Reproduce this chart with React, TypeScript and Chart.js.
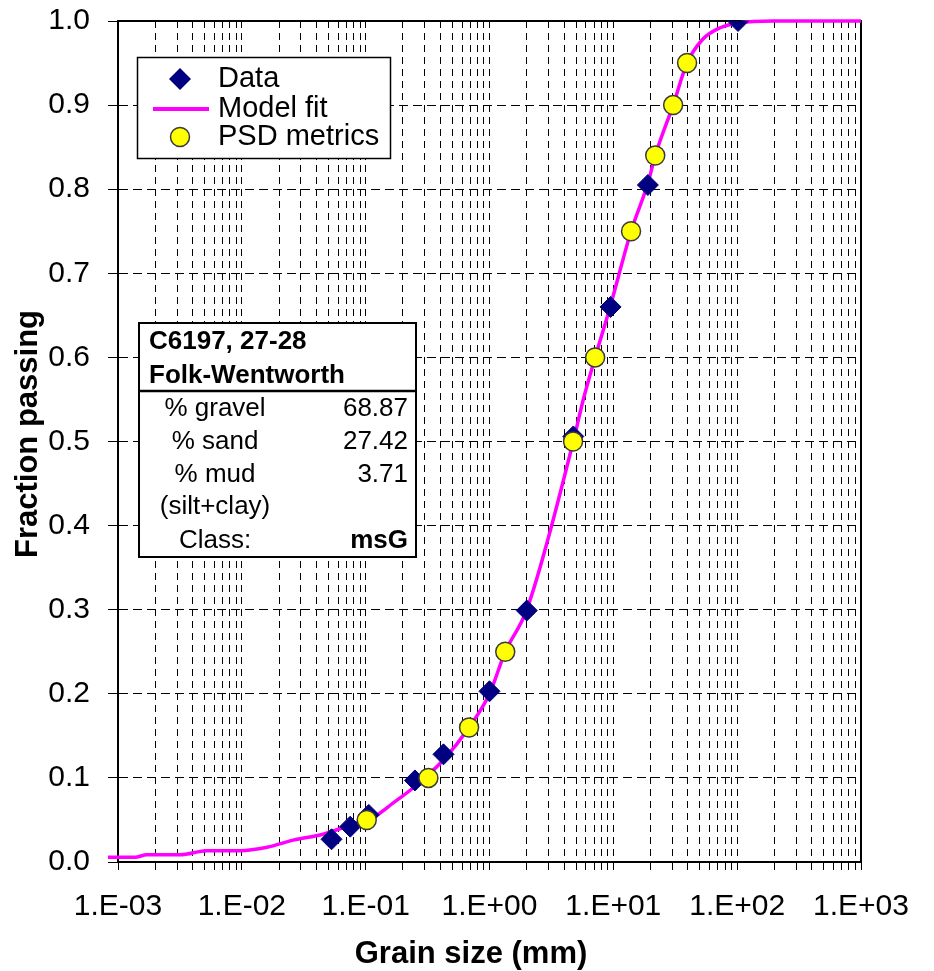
import React, { useEffect, useRef } from 'react';
import { Chart, registerables } from 'chart.js';

Chart.register(...registerables);

const FONT = '"Liberation Sans", Arial, Helvetica, sans-serif';

// Sieve analysis: grain size (mm) and fraction passing
const sieveSizes = [0.053, 0.075, 0.106, 0.25, 0.425, 1.0, 2.0, 4.75, 9.5, 19.0, 101.6];
const sievePassing = [0.027, 0.042, 0.056, 0.097, 0.128, 0.203, 0.299, 0.506, 0.66, 0.805, 1.0];

// PSD metrics D5, D10, D16, D25, D50, D60, D75, D84, D90, D95
const metricSizes = [0.102, 0.321, 0.684, 1.34, 4.73, 7.13, 13.9, 21.8, 30.4, 39.4];
const metricPassing = [0.05, 0.1, 0.16, 0.25, 0.5, 0.6, 0.75, 0.84, 0.9, 0.95];

// Fitted grading curve
const fitSizes = [
  0.00083, 0.00137, 0.00171, 0.00317, 0.00524, 0.00966, 0.016, 0.026, 0.0453, 0.075,
  0.1236, 0.166, 0.241, 0.422, 0.684, 1.0, 1.34, 2.0, 4.75, 5.7, 7.13,
  9.42, 13.9, 19.1, 21.8, 30.4, 39.4, 52.5, 72.9, 105.7, 195, 1000,
];
const fitPassing = [
  0.0055, 0.0055, 0.0087, 0.0087, 0.0134, 0.0134, 0.0175, 0.026, 0.033, 0.044,
  0.056, 0.07, 0.088, 0.121, 0.16, 0.2, 0.25, 0.3, 0.5, 0.549, 0.6,
  0.66, 0.75, 0.808, 0.84, 0.9, 0.95, 0.978, 0.992, 0.998, 1.0, 1.0,
];

// Axis ticks
const xDecades = [0.001, 0.01, 0.1, 1, 10, 100, 1000];
const xDecadeLabels = ['1.E-03', '1.E-02', '1.E-01', '1.E+00', '1.E+01', '1.E+02', '1.E+03'];
const xMinorMultipliers = [2, 3, 4, 5, 6, 7, 8, 9];

// Classification summary box
const summaryTitle = ['C6197, 27-28', 'Folk-Wentworth'];
const summaryLabels = ['% gravel', '% sand', '% mud', '(silt+clay)', 'Class:'];
const summaryValues = ['68.87', '27.42', '3.71', '', 'msG'];

const legendLabels = ['Data', 'Model fit', 'PSD metrics'];

const xTickValues: number[] = [];
xDecades.forEach((d, i) => {
  xTickValues.push(d);
  if (i < xDecades.length - 1) xMinorMultipliers.forEach((m) => xTickValues.push(d * m));
});

const DATA_COLOR = '#000080';
const FIT_COLOR = '#FF00FF';
const METRIC_FILL = '#FFFF00';
const METRIC_EDGE = '#3a3a3a';

const decorPlugin = {
  id: 'decor',
  beforeDatasetsDraw(chart: any) {
    const { ctx, chartArea: a } = chart;
    ctx.save();
    // plot frame
    ctx.strokeStyle = '#000';
    ctx.lineWidth = 2;
    ctx.strokeRect(a.left, a.top, a.right - a.left, a.bottom - a.top);

    // legend box
    ctx.fillStyle = '#fff';
    ctx.fillRect(137, 57, 253, 101);
    ctx.lineWidth = 1.5;
    ctx.strokeRect(137.5, 57.5, 253, 101);
    // diamond
    ctx.fillStyle = DATA_COLOR;
    ctx.beginPath();
    ctx.moveTo(180 - 11, 79);
    ctx.lineTo(180, 79 - 11);
    ctx.lineTo(180 + 11, 79);
    ctx.lineTo(180, 79 + 11);
    ctx.closePath();
    ctx.fill();
    // line
    ctx.strokeStyle = FIT_COLOR;
    ctx.lineWidth = 4;
    ctx.beginPath();
    ctx.moveTo(153, 109);
    ctx.lineTo(209, 109);
    ctx.stroke();
    // circle
    ctx.fillStyle = METRIC_FILL;
    ctx.strokeStyle = METRIC_EDGE;
    ctx.lineWidth = 1.5;
    ctx.beginPath();
    ctx.arc(180, 137, 9.5, 0, Math.PI * 2);
    ctx.fill();
    ctx.stroke();
    ctx.fillStyle = '#000';
    ctx.font = `29px ${FONT}`;
    ctx.textAlign = 'left';
    ctx.textBaseline = 'alphabetic';
    const legendY = [87, 117, 145];
    legendLabels.forEach((t, i) => ctx.fillText(t, 218, legendY[i]));

    // summary table
    ctx.fillStyle = '#fff';
    ctx.fillRect(139, 323, 277, 234);
    ctx.strokeStyle = '#000';
    ctx.lineWidth = 2;
    ctx.strokeRect(139, 323, 277, 234);
    ctx.lineWidth = 2.5;
    ctx.beginPath();
    ctx.moveTo(139, 391);
    ctx.lineTo(416, 391);
    ctx.stroke();
    ctx.fillStyle = '#000';
    ctx.font = `bold 26px ${FONT}`;
    ctx.textAlign = 'left';
    ctx.fillText(summaryTitle[0], 149, 349);
    ctx.fillText(summaryTitle[1], 149, 383);
    const rowY = [416, 449, 482, 514, 548];
    summaryLabels.forEach((t, i) => {
      ctx.font = `26px ${FONT}`;
      ctx.textAlign = 'center';
      ctx.fillText(t, 215, rowY[i]);
      ctx.textAlign = 'right';
      if (i === summaryLabels.length - 1) ctx.font = `bold 26px ${FONT}`;
      ctx.fillText(summaryValues[i], 408, rowY[i]);
    });
    ctx.restore();
  },
  afterDraw(chart: any) {
    const { ctx } = chart;
    ctx.save();
    ctx.fillStyle = '#000';
    ctx.font = `bold 31px ${FONT}`;
    ctx.textAlign = 'center';
    ctx.textBaseline = 'alphabetic';
    ctx.fillText('Grain size (mm)', 471, 963);
    ctx.translate(37, 434);
    ctx.rotate(-Math.PI / 2);
    ctx.fillText('Fraction passing', 0, 0);
    ctx.restore();
  },
};

export default function App() {
  const ref = useRef<HTMLCanvasElement>(null);

  useEffect(() => {
    const canvas = ref.current;
    if (!canvas) return;
    Chart.defaults.font.family = FONT;
    Chart.defaults.color = '#000';

    const chart = new Chart(canvas, {
      type: 'scatter',
      data: {
        datasets: [
          {
            label: 'PSD metrics',
            data: metricSizes.map((x, i) => ({ x, y: metricPassing[i] })),
            pointStyle: 'circle',
            pointRadius: 9.5,
            backgroundColor: METRIC_FILL,
            borderColor: METRIC_EDGE,
            borderWidth: 1.5,
            order: 0,
          },
          {
            label: 'Data',
            data: sieveSizes.map((x, i) => ({ x, y: sievePassing[i] })),
            pointStyle: 'rectRot',
            pointRadius: 10.5,
            backgroundColor: DATA_COLOR,
            borderColor: DATA_COLOR,
            borderWidth: 1,
            order: 1,
          },
          {
            label: 'Model fit',
            data: fitSizes.map((x, i) => ({ x, y: fitPassing[i] })),
            showLine: true,
            pointRadius: 0,
            borderColor: FIT_COLOR,
            backgroundColor: FIT_COLOR,
            borderWidth: 3.5,
            cubicInterpolationMode: 'monotone',
            clip: { left: 12, top: 4, right: 4, bottom: 4 },
            order: 2,
          } as any,
        ],
      },
      options: {
        responsive: false,
        maintainAspectRatio: false,
        devicePixelRatio: 1,
        animation: false,
        events: [],
        layout: { padding: { top: 21, right: 73, bottom: 0, left: 0 } },
        plugins: {
          legend: { display: false },
          tooltip: { enabled: false },
        },
        scales: {
          x: {
            type: 'logarithmic',
            position: 'bottom',
            min: 0.001,
            max: 1000,
            afterBuildTicks: (scale: any) => {
              scale.ticks = xTickValues.map((value) => ({ value }));
            },
            afterFit: (scale: any) => {
              scale.height = 109;
              scale.paddingLeft = 0;
              scale.paddingRight = 0;
            },
            ticks: {
              autoSkip: false,
              maxRotation: 0,
              minRotation: 0,
              padding: 19,
              color: '#000',
              font: { size: 30, family: FONT },
              callback: (v: any) => {
                const value = Number(v);
                const idx = xDecades.findIndex((d) => Math.abs(value / d - 1) < 1e-6);
                return idx >= 0 ? xDecadeLabels[idx] : '';
              },
            },
            grid: {
              color: '#000',
              lineWidth: 1,
              drawTicks: true,
              tickLength: 8,
              tickColor: '#000',
              tickWidth: 1,
              tickBorderDash: [],
            },
            border: { display: true, color: '#000', width: 2, dash: [7, 5] },
          },
          y: {
            type: 'linear',
            position: 'left',
            min: 0,
            max: 1,
            afterFit: (scale: any) => {
              scale.width = 118;
              scale.paddingTop = 0;
              scale.paddingBottom = 0;
            },
            ticks: {
              stepSize: 0.1,
              padding: 18,
              color: '#000',
              font: { size: 30, family: FONT },
              callback: (v: any) => Number(v).toFixed(1),
            },
            grid: {
              color: '#000',
              lineWidth: 1,
              drawTicks: true,
              tickLength: 10,
              tickColor: '#000',
              tickWidth: 1,
              tickBorderDash: [],
            },
            border: { display: true, color: '#000', width: 2, dash: [9, 5] },
          },
        },
      } as any,
      plugins: [decorPlugin],
    });

    return () => chart.destroy();
  }, []);

  return (
    <div style={{ position: 'fixed', left: 0, top: 0, width: 934, height: 971, background: '#fff' }}>
      <canvas ref={ref} width={934} height={971} style={{ display: 'block', width: 934, height: 971 }} />
    </div>
  );
}
